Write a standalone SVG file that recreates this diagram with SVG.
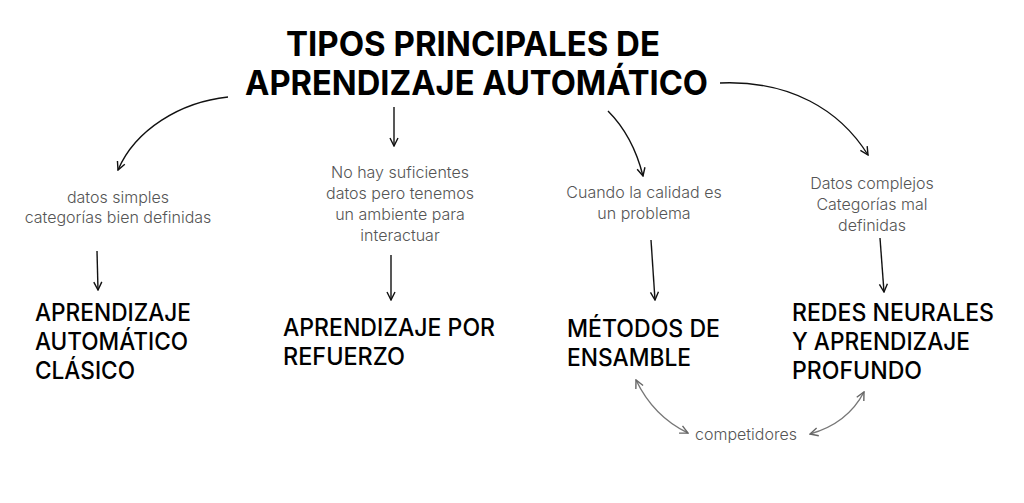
<svg xmlns="http://www.w3.org/2000/svg" width="1024" height="503" viewBox="0 0 1024 503">
<defs>
<marker id="ah" viewBox="0 0 10 10" refX="9" refY="5" markerWidth="10" markerHeight="10" markerUnits="userSpaceOnUse" orient="auto">
<path d="M1,1 L9,5 L1,9" fill="none" stroke="#111" stroke-width="1.4"/>
</marker>
<marker id="ahg" viewBox="0 0 10 10" refX="9" refY="5" markerWidth="10" markerHeight="10" markerUnits="userSpaceOnUse" orient="auto-start-reverse">
<path d="M1,1 L9,5 L1,9" fill="none" stroke="#666" stroke-width="1.4"/>
</marker>
<style>
.title{font-family:Inter,"Liberation Sans",sans-serif;font-weight:700;font-size:34px;fill:#000}
.node{font-family:Inter,"Liberation Sans",sans-serif;font-weight:500;font-size:24px;fill:#000}
.lbl{font-family:Inter,"Liberation Sans",sans-serif;font-weight:300;font-size:16px;fill:#555;text-anchor:middle}
.c{fill:none;stroke:#111;stroke-width:1.4}
.g{fill:none;stroke:#777;stroke-width:1.4}
</style>
</defs>
<rect width="1024" height="503" fill="#fff"/>
<g id="title">
<text class="title" x="286" y="56" textLength="374" lengthAdjust="spacingAndGlyphs">TIPOS PRINCIPALES DE</text>
<text class="title" x="245" y="95" textLength="463" lengthAdjust="spacingAndGlyphs">APRENDIZAJE AUTOMÁTICO</text>
</g>
<g id="node-clasico">
<text class="node" x="35" y="321" textLength="156" lengthAdjust="spacingAndGlyphs">APRENDIZAJE</text>
<text class="node" x="35" y="350" textLength="153" lengthAdjust="spacingAndGlyphs">AUTOMÁTICO</text>
<text class="node" x="35" y="379" textLength="100" lengthAdjust="spacingAndGlyphs">CLÁSICO</text>
</g>
<g id="node-refuerzo">
<text class="node" x="283" y="336" textLength="212" lengthAdjust="spacingAndGlyphs">APRENDIZAJE POR</text>
<text class="node" x="283" y="365" textLength="122" lengthAdjust="spacingAndGlyphs">REFUERZO</text>
</g>
<g id="node-ensamble">
<text class="node" x="567" y="337" textLength="153" lengthAdjust="spacingAndGlyphs">MÉTODOS DE</text>
<text class="node" x="567" y="366" textLength="124" lengthAdjust="spacingAndGlyphs">ENSAMBLE</text>
</g>
<g id="node-redes">
<text class="node" x="792" y="321" textLength="202" lengthAdjust="spacingAndGlyphs">REDES NEURALES</text>
<text class="node" x="792" y="350" textLength="178" lengthAdjust="spacingAndGlyphs">Y APRENDIZAJE</text>
<text class="node" x="792" y="379" textLength="130" lengthAdjust="spacingAndGlyphs">PROFUNDO</text>
</g>
<g id="labels">
<text class="lbl" x="118" y="203">datos simples</text>
<text class="lbl" x="118" y="223">categorías bien definidas</text>
<text class="lbl" x="400" y="178">No hay suficientes</text>
<text class="lbl" x="400" y="199">datos pero tenemos</text>
<text class="lbl" x="400" y="220">un ambiente para</text>
<text class="lbl" x="400" y="241">interactuar</text>
<text class="lbl" x="644" y="198">Cuando la calidad es</text>
<text class="lbl" x="644" y="219">un problema</text>
<text class="lbl" x="872" y="189">Datos complejos</text>
<text class="lbl" x="872" y="210">Categorías mal</text>
<text class="lbl" x="872" y="231">definidas</text>
<text class="lbl" x="746" y="440">competidores</text>
</g>
<g id="connectors">
<path class="c" d="M228,97 C180,102 135,130 118,170" marker-end="url(#ah)"/>
<path class="c" d="M394,107 L394,146" marker-end="url(#ah)"/>
<path class="c" d="M608,111 C625,128 636,148 643,176" marker-end="url(#ah)"/>
<path class="c" d="M720,83 C790,80 840,110 868,155" marker-end="url(#ah)"/>
<path class="c" d="M97,251 L98,290" marker-end="url(#ah)"/>
<path class="c" d="M391,255 L391,300" marker-end="url(#ah)"/>
<path class="c" d="M651,240 L655,300" marker-end="url(#ah)"/>
<path class="c" d="M880,238 L884,292" marker-end="url(#ah)"/>
<path class="g" d="M636,380 C648,405 665,422 688,433" marker-start="url(#ahg)" marker-end="url(#ahg)"/>
<path class="g" d="M864,392 C853,413 835,427 810,434" marker-start="url(#ahg)" marker-end="url(#ahg)"/>
</g>
</svg>
